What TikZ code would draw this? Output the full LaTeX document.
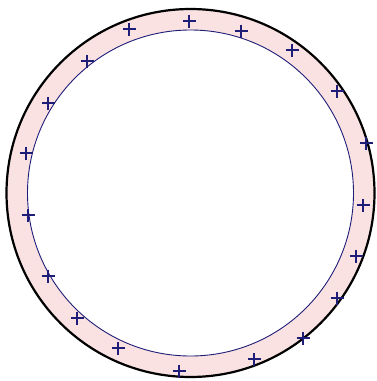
\documentclass[tikz,border=0pt]{standalone}
\definecolor{ringpink}{RGB}{250,226,226}
\definecolor{navy}{RGB}{30,30,120}
\begin{document}
\begin{tikzpicture}[x=1pt,y=-1pt,
  pluss/.style={draw=navy,line width=1.1pt},
  outerring/.style={draw=black,line width=2.2pt},
  innerring/.style={draw=navy,line width=0.9pt}]
\useasboundingbox (0,0) rectangle (377,381);
\coordinate (c) at (190.5,193);
\fill[ringpink,even odd rule] (c) circle[radius=184] (c) circle[radius=163];
\draw[outerring] (c) circle[radius=184];
\draw[innerring] (c) circle[radius=163];
\foreach \x/\y in {189/21,129/29,241/31,87/61,292/50,48/103,337/91,26/153,366/143,28/215,363/205,48/276,356/256,77/318,337/298,118/348,303/338,179/371,254/359}{
  \draw[pluss] (\x-6.5,\y) -- (\x+6.5,\y);
  \draw[pluss] (\x,\y-6.5) -- (\x,\y+6.5);
}
\end{tikzpicture}
\end{document}
